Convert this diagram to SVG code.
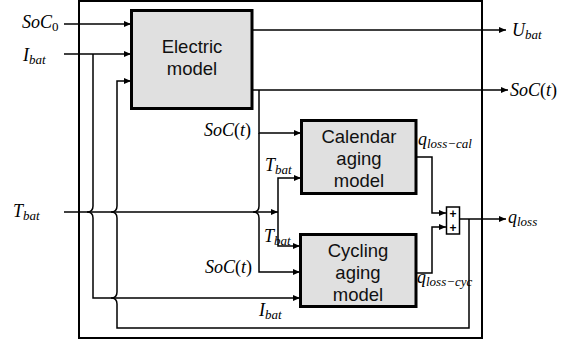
<svg xmlns="http://www.w3.org/2000/svg" width="561" height="342" viewBox="0 0 561 342">
<style>
.blk{fill:#e0e0e0;stroke:#000;stroke-width:3}
.frame{fill:none;stroke:#000;stroke-width:2}
.ln{fill:none;stroke:#000;stroke-width:1.5}
.arr{marker-end:url(#ah)}
.bt{font-family:"Liberation Sans",Arial,sans-serif;font-size:18.5px;fill:#111;text-anchor:middle}
.m{font-family:"Liberation Serif","Times New Roman",serif;font-style:italic;font-size:18px;fill:#000}
.s{font-size:13px}
.up{font-style:normal}
.plus{font-family:"Liberation Sans",Arial,sans-serif;font-size:12px;font-weight:bold;text-anchor:middle;fill:#000}
</style>
<defs>
<marker id="ah" markerUnits="userSpaceOnUse" markerWidth="7" markerHeight="6" refX="7" refY="3" orient="auto">
<path d="M0,0 L7,3 L0,6 z" fill="#000"/>
</marker>
</defs>
<rect id="frame" class="frame" x="79" y="1" width="403" height="337"/>
<g id="connectors">
<path class="ln arr" d="M64,24 H131"/>
<path class="ln arr" d="M64,54 H131"/>
<path class="ln arr" d="M93,54 V206 Q93,212 87,212 Q93,212 93,218 V298 H300"/>
<path class="ln arr" d="M469,219 V328 H117 V304 Q117,298 111,298 Q117,298 117,292 V218 Q117,212 111,212 Q117,212 117,206 V81 H131"/>
<path class="ln arr" d="M64,212 H278"/>
<path class="ln arr" d="M278,212 V178 H301"/>
<path class="ln arr" d="M278,212 V246 H300"/>
<path class="ln arr" d="M253,30 H506"/>
<path class="ln arr" d="M253,90 H508"/>
<path class="ln arr" d="M259,90 V133 H301"/>
<path class="ln arr" d="M259,133 V206 Q259,212 253,212 Q259,212 259,218 V272 H300"/>
<path class="ln arr" d="M417,157 H432 V213 H446"/>
<path class="ln arr" d="M416,273 H432 V227 H446"/>
<path class="ln arr" d="M459,219 H506"/>
</g>
<g id="electric">
<rect class="blk" x="131.5" y="10.5" width="120.5" height="98"/>
<text class="bt" x="192" y="53">Electric</text>
<text class="bt" x="192" y="75">model</text>
</g>
<g id="calendar">
<rect class="blk" x="301.5" y="120.5" width="114.5" height="73"/>
<text class="bt" x="359" y="143">Calendar</text>
<text class="bt" x="359" y="165">aging</text>
<text class="bt" x="359" y="187">model</text>
</g>
<g id="cycling">
<rect class="blk" x="300.5" y="234.5" width="115.5" height="72"/>
<text class="bt" x="358" y="257">Cycling</text>
<text class="bt" x="358" y="279">aging</text>
<text class="bt" x="358" y="301">model</text>
</g>
<g id="sum">
<rect x="446.5" y="207" width="13" height="27" fill="#fff" stroke="#000" stroke-width="1.5"/>
<text class="plus" x="453" y="217.5">+</text>
<text class="plus" x="453" y="231.5">+</text>
</g>
<g id="labels">
<text class="m" x="22" y="28">SoC<tspan class="s up" dy="3">0</tspan></text>
<text class="m" x="23" y="61">I<tspan class="s" dy="3">bat</tspan></text>
<text class="m" x="13" y="217">T<tspan class="s" dy="3">bat</tspan></text>
<text class="m" x="204" y="136">SoC<tspan class="up">(</tspan>t<tspan class="up">)</tspan></text>
<text class="m" x="265" y="171">T<tspan class="s" dy="3">bat</tspan></text>
<text class="m" x="264" y="242">T<tspan class="s" dy="3">bat</tspan></text>
<text class="m" x="205" y="273">SoC<tspan class="up">(</tspan>t<tspan class="up">)</tspan></text>
<text class="m" x="259" y="316">I<tspan class="s" dy="3">bat</tspan></text>
<text class="m" x="418" y="145">q<tspan class="s" dy="3">loss−cal</tspan></text>
<text class="m" x="417" y="283">q<tspan class="s" dy="3">loss−cyc</tspan></text>
<text class="m" x="508" y="223">q<tspan class="s" dy="3">loss</tspan></text>
<text class="m" x="512" y="36">U<tspan class="s" dy="3">bat</tspan></text>
<text class="m" x="510" y="96">SoC<tspan class="up">(</tspan>t<tspan class="up">)</tspan></text>
</g>
</svg>
